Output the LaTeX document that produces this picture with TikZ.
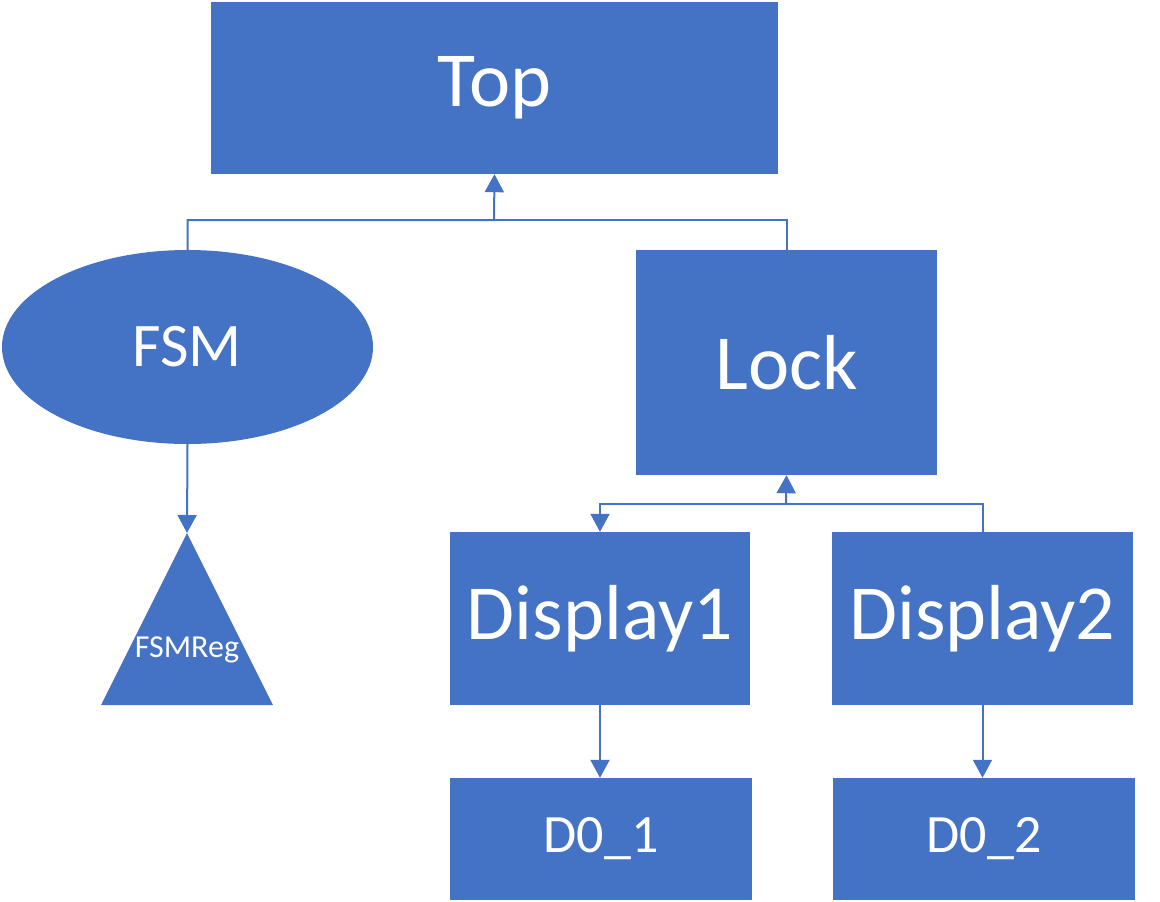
\documentclass[tikz,border=0pt]{standalone}
\usepackage{fontspec}
\setmainfont{Carlito}
\usetikzlibrary{shapes.geometric,arrows.meta}
\definecolor{ofblue}{HTML}{4472C4}
\tikzset{
  blk/.style={fill=ofblue, text=white, inner sep=0pt, draw=none},
  conn/.style={draw=ofblue, line width=2pt},
  arr/.style={conn, -{Triangle[width=19pt,length=18pt]}},
}
\begin{document}
\begin{tikzpicture}[x=1pt,y=-1pt]
\useasboundingbox (0,0) rectangle (1160,902);
\node[blk, minimum width=567pt, minimum height=172pt, font=\fontsize{78}{80}\selectfont] (top) at (494.5,88) {\raisebox{-3pt}{Top}};
\node[blk, ellipse, minimum width=371pt, minimum height=194pt, font=\fontsize{62}{64}\selectfont] (fsm) at (187.5,347) {FSM};
\node[blk, minimum width=301pt, minimum height=225pt, font=\fontsize{78}{80}\selectfont] (lock) at (786.5,362.5) {Lock};
\node[blk, minimum width=300pt, minimum height=173pt, font=\fontsize{78}{80}\selectfont] (d1) at (600,618.5) {Display1};
\node[blk, minimum width=301pt, minimum height=173pt, font=\fontsize{78}{80}\selectfont] (d2) at (982.5,618.5) {Display2};
\node[blk, minimum width=302pt, minimum height=122pt, font=\fontsize{54}{56}\selectfont] (e1) at (601,839) {D0\_1};
\node[blk, minimum width=302pt, minimum height=122pt, font=\fontsize{54}{56}\selectfont] (e2) at (984,839) {D0\_2};
\coordinate (regtop) at (187,533);
\coordinate (regl) at (101,705);
\coordinate (regr) at (273,705);
\fill[ofblue] (regtop) -- (regl) -- (regr) -- cycle;
\node[text=white, inner sep=0pt, font=\fontsize{32}{34}\selectfont] (reg) at (187,650) {FSMReg};
\coordinate (j1) at (494,220);
\coordinate (j2) at (786,504);
\draw[arr] (fsm.north) |- (j1) -- (top.south);
\draw[conn] (lock.north) |- (j1);
\draw[arr] (j2) -- (lock.south);
\draw[arr] (j2) -| (d1.north);
\draw[conn] (j2) -| (d2.north);
\draw[arr] (fsm.south) -- (regtop);
\draw[arr] (d1.south) -- (d1.south |- e1.north);
\draw[arr] (d2.south) -- (d2.south |- e2.north);
\end{tikzpicture}
\end{document}
